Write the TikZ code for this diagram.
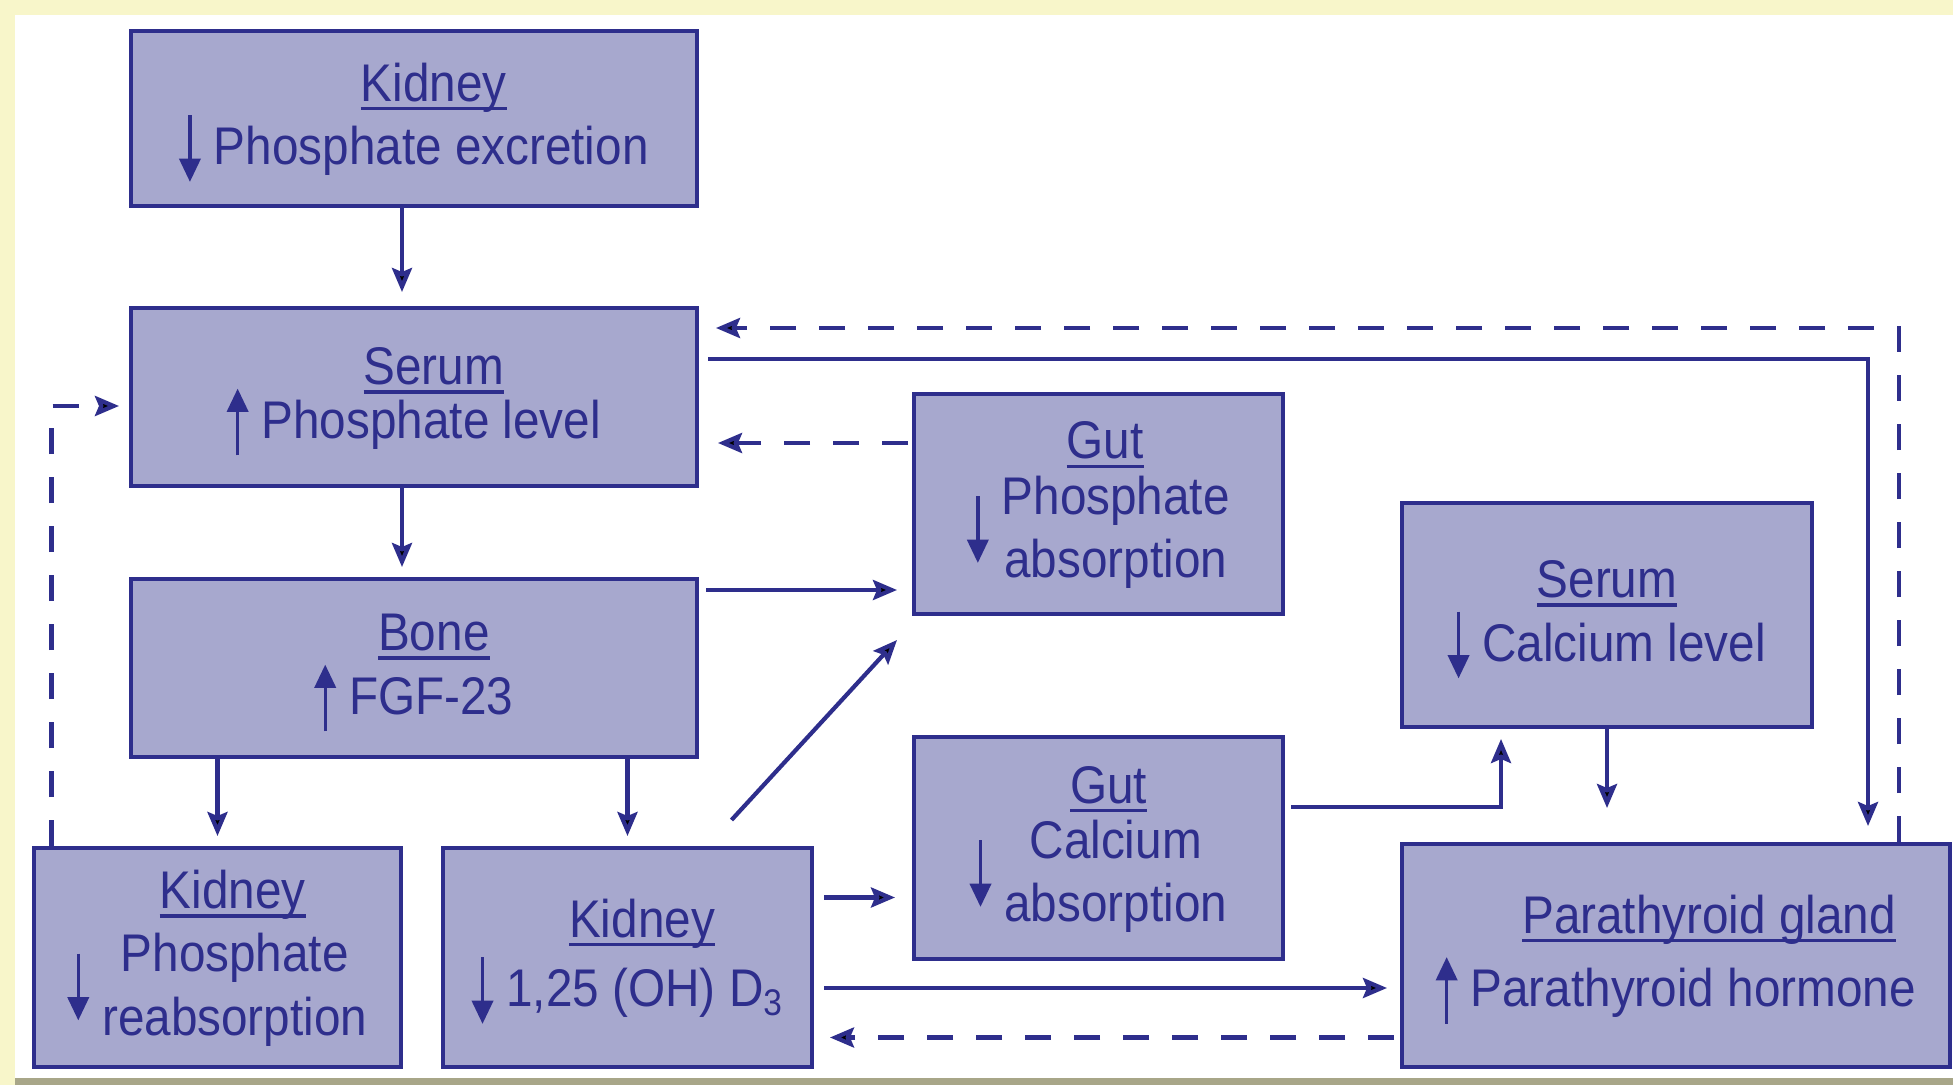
\documentclass[tikz,border=0pt]{standalone}
\usepackage{fontspec}
\setmainfont{Liberation Sans}[FakeStretch=0.9]
\usetikzlibrary{arrows.meta,calc,positioning}

\definecolor{ink}{RGB}{46,46,140}
\definecolor{boxfill}{RGB}{167,168,206}
\definecolor{paper}{RGB}{248,246,202}
\definecolor{rim}{RGB}{168,166,136}

\newsavebox{\hdbox}
\newcommand{\hd}[2][0pt]{\rule{0pt}{24pt}\hspace*{#1}\sbox{\hdbox}{#2}\rlap{\rule[-0.17em]{\wd\hdbox}{0.065em}}\usebox{\hdbox}}
\newcommand{\uparr}{\tikz[baseline=0pt]\draw[ink,line width=1.7pt,-{Triangle[length=0.44em,width=0.4em]}] (0pt,-0.32em) -- (0pt,0.94em);\hspace{0.25em}}
\newcommand{\dnarr}{\tikz[baseline=0pt]\draw[ink,line width=1.7pt,-{Triangle[length=0.44em,width=0.4em]}] (0pt,0.94em) -- (0pt,-0.32em);\hspace{0.25em}}
\newcommand{\twoline}[2]{\begin{tabular}[c]{@{}c@{}}#1\\#2\end{tabular}}

\begin{document}
\begin{tikzpicture}[>={Stealth[length=12pt,width=10pt,inset=2pt]}, x=0.5pt, y=-0.5pt,
    box/.style={draw=ink, fill=boxfill, line width=2pt, text=ink, align=center,
                inner sep=0pt, font=\fontsize{26.5}{31.75}\selectfont},
    conn/.style={draw=ink, line width=2.1pt, ->},
    fb/.style={conn, dash pattern=on 13pt off 11.5pt}]
  \useasboundingbox (0,0) rectangle (1953,1085);
  % page
  \fill[paper] (0,0) rectangle (1953,1085);
  \fill[white] (15,15) rectangle (1953,1078);
  \fill[rim] (15,1078) rectangle (1953,1085);

  % phosphate column
  \node[box, minimum width=283pt, minimum height=87.5pt] (kidex) at (414,118.5)
    {\hd[0.75em]{Kidney}\\\dnarr Phosphate excretion};
  \node[box, minimum width=283pt, minimum height=89pt] (serp) at (414,397)
    {\hd[0.75em]{Serum}\\[-5pt]\uparr Phosphate level};
  \node[box, minimum width=283pt, minimum height=89pt] (bone) at (414,668)
    {\hd[0.75em]{Bone}\\\uparr FGF-23};
  \node[box, minimum width=183.5pt, minimum height=109.5pt] (kidre) at (217.5,957.5)
    {\hd[0.57em]{Kidney}\\[3pt]\dnarr\twoline{Phosphate}{reabsorption}};
  \node[box, minimum width=184.5pt, minimum height=109.5pt] (kidvd) at (627.5,957.5)
    {\hd[0.55em]{Kidney}\\[3pt]\dnarr 1,25 (OH) D\textsubscript{3}};

  % gut
  \node[box, minimum width=184.5pt, minimum height=110pt] (gutp) at (1098.5,504)
    {\hd[0.25em]{Gut}\\\dnarr\twoline{Phosphate}{absorption}};
  \node[box, minimum width=184.5pt, minimum height=111pt] (gutca) at (1098.5,848)
    {\hd[0.38em]{Gut}\\\dnarr\twoline{Calcium}{absorption}};

  % calcium side
  \node[box, minimum width=205pt, minimum height=112pt] (serca) at (1607,615)
    {\hd{Serum}\\\dnarr Calcium level};
  \node[box, minimum width=274pt, minimum height=111.5pt] (pth) at (1676,955.5)
    {\hd[1.25em]{Parathyroid gland}\\[5pt]\uparr Parathyroid hormone};

  % solid arrows
  \draw[conn, shorten >=7pt] ([xshift=-6pt]kidex.south) -- ([xshift=-6pt]serp.north);
  \draw[conn, shorten >=5pt] ([xshift=-6pt]serp.south) -- ([xshift=-6pt]bone.north);
  \draw[conn, shorten >=5pt] (bone.south -| kidre.north) -- (kidre.north);
  \draw[conn, shorten >=5pt] (bone.south -| kidvd.north) -- (kidvd.north);
  \draw[conn, shorten <=3.5pt, shorten >=7.5pt] ([yshift=-6.5pt]bone.north east) coordinate (c1) -- (c1 -| gutp.west);
  \draw[conn] ([xshift=52pt,yshift=13pt]kidvd.north) -- ([xshift=-7.5pt,yshift=-12pt]gutp.south west);
  \draw[conn, shorten <=5pt, shorten >=8.5pt] ([yshift=30pt]kidvd.east) coordinate (c2) -- (c2 -| gutca.west);
  \draw[conn, shorten <=5pt, shorten >=6.5pt] ([yshift=-15.25pt]kidvd.east) coordinate (c3) -- (c3 -| pth.west);
  \draw[conn, shorten <=4.5pt, shorten >=8pt] ([yshift=19pt]serp.east) -| ([xshift=96pt]pth.north);
  \draw[conn, shorten <=3pt, shorten >=5pt] ([yshift=20.5pt]gutca.east) -| ([xshift=-53pt]serca.south);
  \draw[conn, shorten >=17pt] (serca.south) -- (serca.south |- pth.north);

  % dashed feedback
  \draw[fb, shorten <=3pt, shorten >=8pt] ([yshift=-41pt]pth.west) coordinate (c4) -- (c4 -| kidvd.east);
  \draw[fb, shorten <=2pt, shorten >=9.5pt] ([yshift=-25.5pt]gutp.north west) coordinate (c5) -- (c5 -| serp.east);
  \draw[fb, shorten >=8.5pt] ([xshift=111.5pt]pth.north) |- ([yshift=-11pt]serp.north east);
  \draw[fb, shorten >=5pt] ([xshift=9.75pt]kidre.north west) |- ([yshift=-4.5pt]serp.west);
\end{tikzpicture}
\end{document}
